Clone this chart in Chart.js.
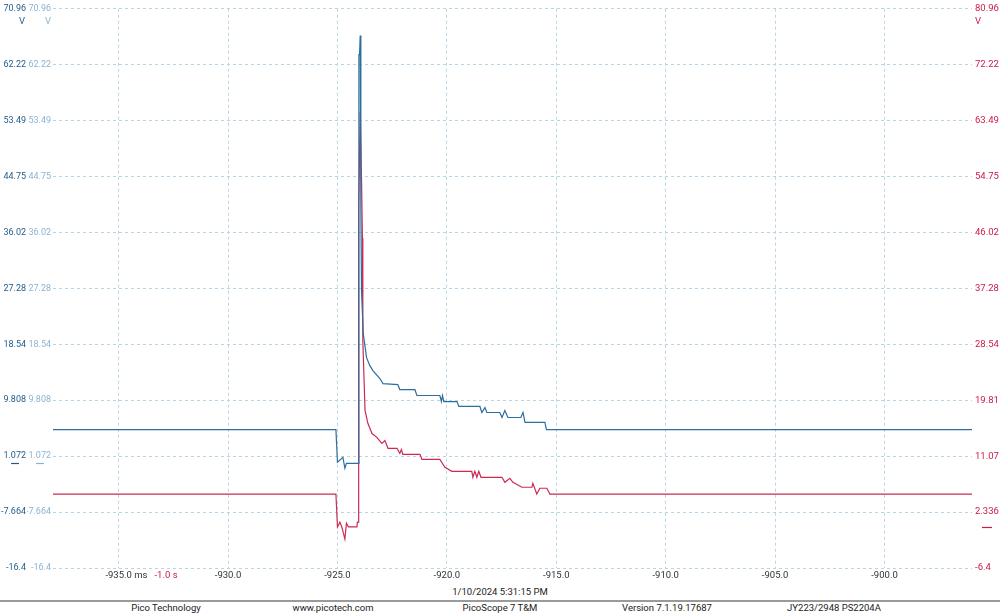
<!DOCTYPE html>
<html>
<head>
<meta charset="utf-8">
<script src="https://cdn.jsdelivr.net/npm/chart.js@4"></script>
<style>
  html, body { margin: 0; padding: 0; background: #fff; }
  body { width: 1000px; height: 613px; position: relative; overflow: hidden; font-family: Roboto, sans-serif; }
  #wrap { position: absolute; left: 0; top: 0; width: 1000px; height: 585px; }
  #fecha { position: absolute; left: 0; top: 585px; width: 1000px; height: 13px; line-height: 13px; text-align: center; font-size: 9.5px; color: #222; }
  #linea { position: absolute; left: 0; top: 600px; width: 1000px; height: 2px; background: #9a9a9a; }
  .pie { position: absolute; top: 602px; width: 166px; height: 12px; line-height: 12px; text-align: center; font-size: 9.5px; color: #222; white-space: nowrap; }
</style>
</head>
<body>
<div id="wrap"><canvas id="myChart"></canvas></div>
<div id="fecha">1/10/2024 5:31:15 PM</div>
<div id="linea"></div>
<div class="pie" style="left:83px">Pico Technology</div>
<div class="pie" style="left:250px">www.picotech.com</div>
<div class="pie" style="left:417px">PicoScope 7 T&amp;M</div>
<div class="pie" style="left:584px">Version 7.1.19.17687</div>
<div class="pie" style="left:751px">JY223/2948 PS2204A</div>
<script>
// Datos del canal A (azul, eje izquierdo) - tiempo en ms, voltaje en V
const tiempoA = [-938.0, -925.07, -925.0, -924.75, -924.66, -924.59, -924.06, -924.02, -923.99, -923.96, -923.93, -923.9, -923.82, -923.67, -923.52, -923.38, -923.06, -922.92, -922.24, -922.15, -921.46, -921.37, -920.32, -920.25, -920.2, -920.14, -919.54, -919.45, -918.49, -918.4, -918.26, -918.17, -917.58, -917.48, -917.35, -917.21, -916.62, -916.52, -916.43, -915.52, -915.45, -896.0];
const voltajeA = [5.2, 5.2, 0.11, 0.89, -0.83, -0.05, -0.05, 63.8, 63.8, 66.76, 40.0, 26.9, 20.2, 16.46, 15.21, 14.43, 13.19, 12.41, 12.25, 11.47, 11.47, 10.54, 10.54, 9.6, 10.54, 9.6, 9.6, 8.83, 8.83, 7.89, 8.67, 7.89, 7.89, 7.11, 8.2, 7.11, 7.11, 7.89, 6.34, 6.34, 5.2, 5.2];

// Datos del canal B (rojo, eje derecho)
const tiempoB = [-938.0, -925.07, -925.0, -924.89, -924.8, -924.66, -924.59, -924.5, -924.11, -924.09, -924.05, -924.03, -923.96, -923.9, -923.86, -923.84, -923.74, -923.61, -923.42, -923.2, -922.97, -922.83, -922.69, -922.28, -922.15, -922.08, -922.01, -921.23, -921.14, -920.32, -920.09, -919.77, -918.86, -918.81, -918.72, -918.63, -918.54, -918.44, -917.48, -917.35, -917.12, -916.98, -916.57, -916.11, -916.07, -915.89, -915.75, -915.43, -915.29, -896.0];
const voltajeB = [5.15, 5.15, 0.02, 0.76, 0.02, -1.88, 0.6, 0.02, 0.02, 0.76, 0.76, 49.8, 64.9, 54.3, 45.1, 29.1, 18.2, 16.2, 14.6, 14.0, 13.06, 13.5, 12.3, 12.3, 11.5, 12.1, 11.35, 11.35, 10.57, 10.57, 9.33, 8.7, 8.7, 7.77, 8.7, 7.77, 8.7, 7.77, 7.77, 6.99, 7.6, 6.99, 6.21, 6.21, 6.83, 5.15, 6.06, 6.06, 5.15, 5.15];

// Ejes
const ticksX = [-935, -930, -925, -920, -915, -910, -905, -900];
const etiquetasX = ['-935.0', '-930.0', '-925.0', '-920.0', '-915.0', '-910.0', '-905.0', '-900.0'];
const ticksIzq = [-16.4, -7.664, 1.072, 9.808, 18.544, 27.28, 36.016, 44.752, 53.488, 62.224, 70.96];
const etiquetasIzq = ['-16.4', '-7.664', '1.072', '9.808', '18.54', '27.28', '36.02', '44.75', '53.49', '62.22', '70.96'];
const ticksDer = [-6.4, 2.336, 11.072, 19.808, 28.544, 37.28, 46.016, 54.752, 63.488, 72.224, 80.96];
const etiquetasDer = ['-6.4', '2.336', '11.07', '19.81', '28.54', '37.28', '46.02', '54.75', '63.49', '72.22', '80.96'];

const azulOscuro = '#1f5c8c';
const azulClaro = '#8ab4d2';
const rojo = '#cc1a48';
const fuente = { family: 'Roboto', size: 9.5 };
const fuenteIzq = { family: 'Roboto', size: 9 };

// Plugin para las unidades, marcadores de cero y el texto extra del eje X
const extras = {
  id: 'extras',
  afterDraw(chart) {
    const ctx = chart.ctx;
    const { x, y, y1, y2 } = chart.scales;
    ctx.save();
    ctx.font = '9.5px Roboto';
    ctx.textBaseline = 'middle';
    // "V" bajo la etiqueta superior
    ctx.fillStyle = azulOscuro;
    ctx.textAlign = 'right';
    ctx.fillText('V', y.right - 2, y.getPixelForValue(70.96) + 13);
    ctx.fillStyle = azulClaro;
    ctx.fillText('V', y1.right - 2, y1.getPixelForValue(70.96) + 13);
    ctx.fillStyle = rojo;
    ctx.textAlign = 'left';
    ctx.fillText('V', y2.left + 3, y2.getPixelForValue(80.96) + 13);
    // marcadores de cero
    ctx.lineWidth = 1.2;
    ctx.strokeStyle = azulOscuro;
    let p = Math.round(y.getPixelForValue(0)) + 0.5;
    ctx.beginPath(); ctx.moveTo(y.right - 16, p); ctx.lineTo(y.right - 8, p); ctx.stroke();
    ctx.strokeStyle = azulClaro;
    ctx.beginPath(); ctx.moveTo(y1.right - 17, p); ctx.lineTo(y1.right - 9, p); ctx.stroke();
    ctx.strokeStyle = rojo;
    p = Math.round(y2.getPixelForValue(0)) + 0.5;
    ctx.beginPath(); ctx.moveTo(y2.left + 10, p); ctx.lineTo(y2.left + 20, p); ctx.stroke();
    // " ms" y "-1.0 s"
    const xt = x.getPixelForValue(ticksX[0]) + ctx.measureText(etiquetasX[0]).width / 2;
    const yt = x.top + 2 + 6;
    ctx.fillStyle = '#333';
    ctx.textAlign = 'left';
    ctx.fillText(' ms', xt, yt);
    const xs = xt + ctx.measureText(' ms').width + 7;
    ctx.fillStyle = rojo;
    ctx.fillText('-1.0 s', xs, yt);
    ctx.restore();
  }
};

const ctx = document.getElementById('myChart').getContext('2d');
new Chart(ctx, {
  type: 'line',
  data: {
    datasets: [
      {
        label: 'A',
        data: tiempoA.map((t, i) => ({ x: t, y: voltajeA[i] })),
        borderColor: '#2c6e9e',
        borderWidth: 1.2,
        pointRadius: 0,
        tension: 0,
        fill: false,
        yAxisID: 'y',
        order: 0,
      },
      {
        label: 'B',
        data: tiempoB.map((t, i) => ({ x: t, y: voltajeB[i] })),
        borderColor: '#cc2a52',
        borderWidth: 1.2,
        pointRadius: 0,
        tension: 0,
        fill: false,
        yAxisID: 'y2',
        order: 1,
      },
    ],
  },
  options: {
    responsive: true,
    maintainAspectRatio: false,
    animation: false,
    layout: { padding: { top: 1, left: 0, right: 0, bottom: 0 } },
    plugins: { legend: { display: false }, tooltip: { enabled: false } },
    scales: {
      x: {
        type: 'linear',
        min: -938.0,
        max: -896.0,
        afterBuildTicks: (s) => { s.ticks = ticksX.map(v => ({ value: v })); },
        afterFit: (s) => { s.height = 17; },
        ticks: {
          autoSkip: false,
          maxRotation: 0,
          padding: 2,
          color: '#333',
          font: fuente,
          callback: (v, i) => etiquetasX[i],
        },
        grid: { color: '#b8d6e2', lineWidth: 1, drawTicks: false },
        border: { display: false, dash: [3, 3] },
      },
      y: {
        position: 'left',
        weight: 2,
        min: -16.4,
        max: 70.96,
        afterBuildTicks: (s) => { s.ticks = ticksIzq.map(v => ({ value: v })); },
        afterFit: (s) => { s.width = 27; },
        ticks: {
          autoSkip: false,
          padding: 1,
          color: azulOscuro,
          font: fuenteIzq,
          callback: (v, i) => etiquetasIzq[i],
        },
        grid: { color: '#b8d6e2', lineWidth: 1, drawTicks: false },
        border: { display: false, dash: [3, 3] },
      },
      y1: {
        position: 'left',
        weight: 1,
        min: -16.4,
        max: 70.96,
        afterBuildTicks: (s) => { s.ticks = ticksIzq.map(v => ({ value: v })); },
        afterFit: (s) => { s.width = 26; },
        ticks: {
          autoSkip: false,
          padding: 2,
          color: azulClaro,
          font: fuenteIzq,
          callback: (v, i) => etiquetasIzq[i],
        },
        grid: { display: false, drawTicks: false },
        border: { display: false },
      },
      y2: {
        position: 'right',
        min: -6.4,
        max: 80.96,
        afterBuildTicks: (s) => { s.ticks = ticksDer.map(v => ({ value: v })); },
        afterFit: (s) => { s.width = 28; },
        ticks: {
          autoSkip: false,
          padding: 3,
          color: rojo,
          font: fuente,
          callback: (v, i) => etiquetasDer[i],
        },
        grid: { display: false, drawTicks: false },
        border: { display: false },
      },
    },
  },
  plugins: [extras],
});
</script>
</body>
</html>
